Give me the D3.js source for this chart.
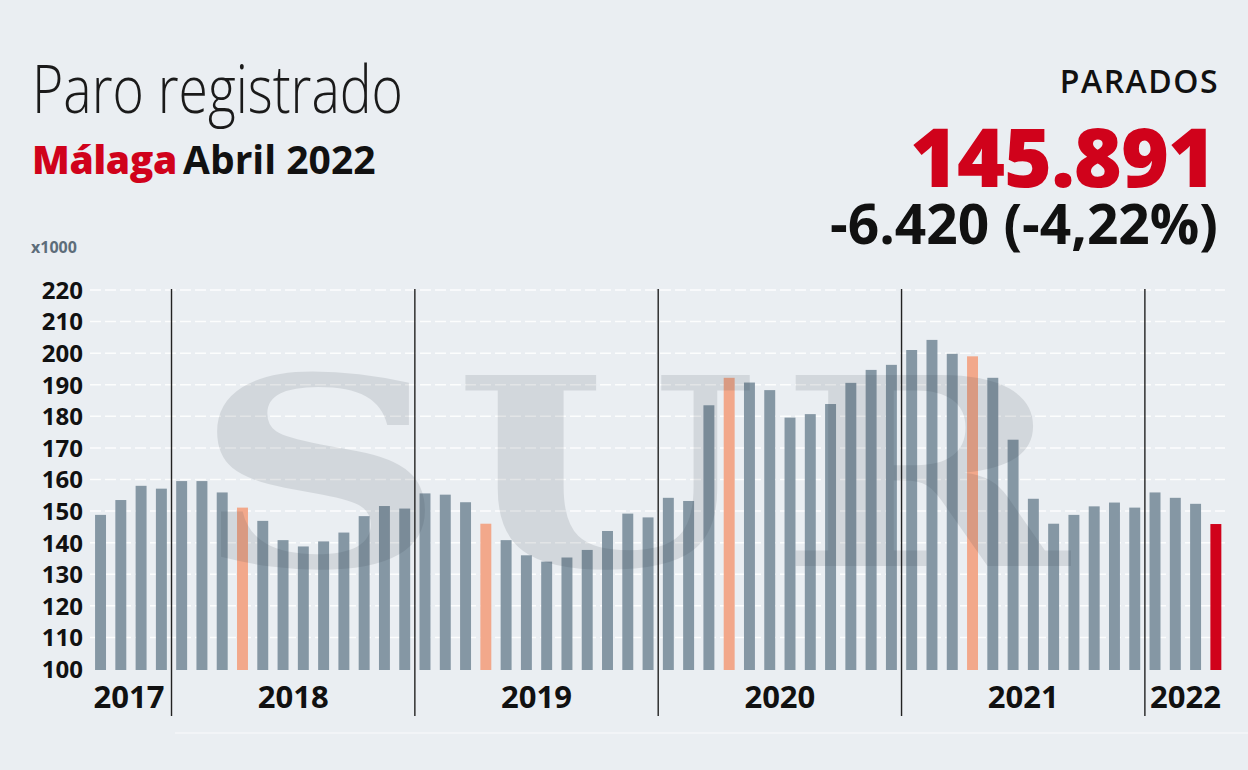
<!DOCTYPE html>
<html>
<head>
<meta charset="utf-8">
<script src="https://cdn.jsdelivr.net/npm/d3@7"></script>
<style>
  html, body { margin: 0; padding: 0; background: #eaeef2; }
  svg { display: block; }
</style>
</head>
<body>
<svg id="chart" width="1248" height="770"></svg>
<script>
// ---- DATA (thousands of registered unemployed, Málaga) ----
const categories = [
  "sep-17","oct-17","nov-17","dic-17",
  "ene-18","feb-18","mar-18","abr-18","may-18","jun-18","jul-18","ago-18","sep-18","oct-18","nov-18","dic-18",
  "ene-19","feb-19","mar-19","abr-19","may-19","jun-19","jul-19","ago-19","sep-19","oct-19","nov-19","dic-19",
  "ene-20","feb-20","mar-20","abr-20","may-20","jun-20","jul-20","ago-20","sep-20","oct-20","nov-20","dic-20",
  "ene-21","feb-21","mar-21","abr-21","may-21","jun-21","jul-21","ago-21","sep-21","oct-21","nov-21","dic-21",
  "ene-22","feb-22","mar-22","abr-22"
];
const values = [
  148.8, 153.5, 158.0, 157.1,
  159.5, 159.5, 155.9, 151.1, 146.9, 140.8, 138.8, 140.4, 143.2, 148.4, 151.6, 150.8,
  155.6, 155.2, 152.8, 146.0, 140.8, 136.0, 134.0, 135.3, 137.7, 143.7, 149.2, 148.0,
  154.2, 153.2, 183.5, 192.2, 190.7, 188.3, 179.6, 180.7, 183.9, 190.6, 194.7, 196.3,
  201.0, 204.2, 199.8, 199.0, 192.2, 172.6, 153.9, 146.0, 148.8, 151.5, 152.7, 151.1,
  155.9, 154.2, 152.3, 145.9
];
const aprilCategories = ["abr-18", "abr-19", "abr-20", "abr-21"];
const currentCategory = "abr-22";
const yearLabels = ["2017", "2018", "2019", "2020", "2021", "2022"];
const yearSuffix = ["17", "18", "19", "20", "21", "22"];
const yTicks = [100, 110, 120, 130, 140, 150, 160, 170, 180, 190, 200, 210, 220];

// ---- LAYOUT ----
const svg = d3.select("#chart");
const W = 1248, H = 770;
const colors = { bg: "#eaeef2", bar: "#8597a4", april: "#f2a88b", current: "#d0021b", text: "#111", red: "#d0021b" };

svg.append("rect").attr("width", W).attr("height", H).attr("fill", colors.bg);

const x = d3.scaleBand().domain(categories).range([90.4, 1226]).paddingInner(0.46).paddingOuter(0.23);
const y = d3.scaleLinear().domain([100, 220]).range([669, 290]);

// gridlines
const grid = svg.append("g");
grid.selectAll("line").data(yTicks.filter(d => d > 100)).join("line")
  .attr("x1", 90).attr("x2", 1225)
  .attr("y1", d => y(d)).attr("y2", d => y(d))
  .attr("stroke", "#ffffff").attr("stroke-width", 1.5)
  .attr("stroke-dasharray", "11,4").attr("opacity", 0.9);

// y axis labels
const yAxis = d3.axisLeft(y).tickValues(yTicks).tickSize(0).tickPadding(0);
const ya = svg.append("g").attr("transform", "translate(83,0)").call(yAxis);
ya.select(".domain").remove();
ya.selectAll("text")
  .attr("font-family", "'Open Sans', sans-serif").attr("font-weight", 700)
  .attr("font-size", 24).attr("fill", colors.text).attr("dy", "0.35em");

// bars
svg.append("g").selectAll("rect").data(categories).join("rect")
  .attr("x", d => x(d))
  .attr("width", x.bandwidth())
  .attr("y", (d, i) => y(values[i]))
  .attr("height", (d, i) => y(100) - y(values[i]) + 1)
  .attr("fill", d => d === currentCategory ? colors.current : (aprilCategories.includes(d) ? colors.april : colors.bar));

// watermark (publisher logo)
svg.append("text")
  .attr("transform", "scale(1.33,1)")
  .attr("x", "146 341 586").attr("y", 566)
  .attr("font-family", "'DejaVu Serif', 'Liberation Serif', serif")
  .attr("font-weight", 700).attr("font-size", 262)
  .attr("fill", "#2f3a45").attr("opacity", 0.12)
  .text("SUR");

// year separators & labels
const step = x.step();
const yearSpans = yearSuffix.map((s, i) => {
  const cats = categories.filter(c => c.endsWith("-" + s));
  const x0 = x(cats[0]) - x.paddingInner() * step / 2;
  const x1 = x(cats[cats.length - 1]) + x.bandwidth() + x.paddingInner() * step / 2;
  return { label: yearLabels[i], x0, x1 };
});
svg.append("g").selectAll("line").data(yearSpans.slice(1)).join("line")
  .attr("x1", d => d.x0).attr("x2", d => d.x0)
  .attr("y1", 289).attr("y2", 716)
  .attr("stroke", "#222").attr("stroke-width", 1.4);
svg.append("g").selectAll("text").data(yearSpans).join("text")
  .attr("x", (d, i) => i === 0 ? (d.x0 + d.x1) / 2 - 2 : (d.x0 + d.x1) / 2)
  .attr("y", 708)
  .attr("text-anchor", "middle")
  .attr("font-family", "'Open Sans', sans-serif").attr("font-weight", 700)
  .attr("font-size", 31).attr("fill", colors.text)
  .text(d => d.label);

// faint bottom line
svg.append("line").attr("x1", 175).attr("x2", 1248).attr("y1", 733).attr("y2", 733)
  .attr("stroke", "#f4f6f8").attr("stroke-width", 1.5);

// ---- TITLES ----
svg.append("text").attr("x", 32).attr("y", 113)
  .attr("font-family", "'Open Sans', sans-serif").attr("font-weight", 300)
  .attr("font-size", 66).attr("fill", "#1a1a1a")
  .attr("textLength", 371).attr("lengthAdjust", "spacingAndGlyphs")
  .text("Paro registrado");

const sub = svg.append("text").attr("x", 32).attr("y", 174)
  .attr("font-family", "'Open Sans', sans-serif").attr("font-size", 39);
sub.append("tspan").attr("font-weight", 800).attr("fill", colors.red).attr("letter-spacing", -0.3).text("Málaga");
sub.append("tspan").attr("font-weight", 700).attr("fill", colors.text).attr("dx", 6).text("Abril 2022");

svg.append("text").attr("x", 31).attr("y", 253)
  .attr("font-family", "'Open Sans', sans-serif").attr("font-weight", 700)
  .attr("font-size", 16).attr("fill", "#5d6d7a").text("x1000");

svg.append("text").attr("x", 1219).attr("y", 93).attr("text-anchor", "end")
  .attr("font-family", "'Open Sans', sans-serif").attr("font-weight", 600)
  .attr("font-size", 32).attr("letter-spacing", 1.5).attr("fill", colors.text).text("PARADOS");

svg.append("text").attr("x", 1215).attr("y", 187).attr("text-anchor", "end")
  .attr("font-family", "'Open Sans', sans-serif").attr("font-weight", 800)
  .attr("font-size", 82).attr("fill", colors.red).attr("letter-spacing", -1).text("145.891");

svg.append("text").attr("x", 1218).attr("y", 244).attr("text-anchor", "end")
  .attr("font-family", "'Open Sans', sans-serif").attr("font-weight", 700)
  .attr("font-size", 55).attr("fill", colors.text).text("-6.420 (-4,22%)");
</script>
</body>
</html>
